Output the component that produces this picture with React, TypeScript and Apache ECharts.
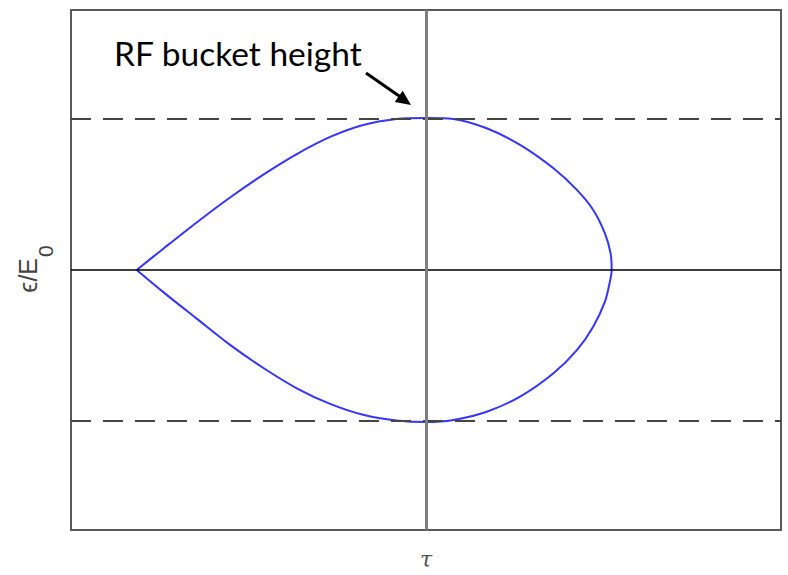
import React, { useEffect, useRef } from "react";
import * as echarts from "echarts";

// RF bucket (separatrix): tau (horizontal) and eps/E0 (vertical)
const bucketHeight = 0.585;
const tauRange = [-1, 1];
const epsRange = [-1, 1];

const upperTau = [-0.815, -0.74, -0.646, -0.552, -0.458, -0.364, -0.27, -0.177, -0.083, 0, 0.077, 0.171, 0.265, 0.359, 0.425, 0.471, 0.504, 0.52, 0.523];
const upperEps = [0, 0.082, 0.183, 0.279, 0.367, 0.446, 0.512, 0.558, 0.581, 0.585, 0.581, 0.545, 0.481, 0.391, 0.308, 0.231, 0.141, 0.064, 0];
const lowerTau = [0.523, 0.518, 0.504, 0.471, 0.425, 0.359, 0.265, 0.171, 0.077, 0, -0.083, -0.177, -0.27, -0.364, -0.458, -0.552, -0.646, -0.74, -0.815];
const lowerEps = [0, -0.045, -0.122, -0.218, -0.308, -0.397, -0.487, -0.545, -0.577, -0.585, -0.579, -0.557, -0.515, -0.455, -0.377, -0.288, -0.187, -0.085, 0];

const annotation = "RF bucket height";
const xName = "τ";
const yNameMain = "ϵ/E";
const yNameSub = "0";

export default function App() {
  const ref = useRef<HTMLDivElement>(null);
  useEffect(() => {
    document.body.style.margin = "0";
    if (!ref.current) return;
    const chart = echarts.init(ref.current, null, { renderer: "svg" });
    const curve: number[][] = [];
    upperTau.forEach((t, i) => curve.push([t, upperEps[i]]));
    lowerTau.forEach((t, i) => { if (i > 0) curve.push([t, lowerEps[i]]); });

    chart.setOption({
      animation: false,
      backgroundColor: "#ffffff",
      grid: {
        left: 71, top: 10, width: 710, height: 520,
        outerBoundsMode: "none", containLabel: false,
        show: true, borderColor: "#5a5a5a", borderWidth: 2, backgroundColor: "transparent",
      },
      xAxis: {
        type: "value", min: tauRange[0], max: tauRange[1],
        axisLine: { show: false }, axisTick: { show: false }, axisLabel: { show: false }, splitLine: { show: false },
      },
      yAxis: {
        type: "value", min: epsRange[0], max: epsRange[1],
        axisLine: { show: false }, axisTick: { show: false }, axisLabel: { show: false }, splitLine: { show: false },
      },
      series: [
        {
          type: "line", data: [], silent: true,
          markLine: {
            silent: true, symbol: ["none", "none"], label: { show: false },
            data: [
              { yAxis: bucketHeight, lineStyle: { color: "#444", width: 2, type: [20, 12] } },
              { yAxis: -bucketHeight, lineStyle: { color: "#444", width: 2, type: [20, 12] } },
              { yAxis: 0, lineStyle: { color: "#000", width: 1.5, type: "solid" } },
            ],
          },
        },
        {
          type: "line", data: curve, showSymbol: false, smooth: 0.3, silent: true,
          lineStyle: { color: "#3535ff", width: 2 }, z: 3,
        },
        {
          type: "line", data: [], silent: true, z: 4,
          markLine: {
            silent: true, symbol: ["none", "none"], label: { show: false },
            data: [{ xAxis: 0, lineStyle: { color: "#7f7f7f", width: 3, type: "solid" } }],
          },
        },
      ],
      graphic: [
        {
          type: "text", x: 114, y: 53,
          style: { text: annotation, font: "33.5px Lato", fill: "#000", verticalAlign: "middle", align: "left" },
        },
        {
          type: "line", shape: { x1: 366, y1: 73, x2: 402, y2: 98 },
          style: { stroke: "#000", lineWidth: 3 },
        },
        {
          type: "polygon", shape: { points: [[394.7, 102.1], [402.7, 90.7], [411, 105]] },
          style: { fill: "#000" },
        },
        {
          type: "text", x: 426, y: 559,
          style: { text: xName, font: "italic 22px 'DejaVu Serif'", fill: "#555", align: "center", verticalAlign: "middle" },
        },
        {
          type: "group", x: 28, y: 270, rotation: Math.PI / 2,
          children: [
            {
              type: "text", x: 12, y: 0,
              style: { text: yNameMain, font: "25px 'Liberation Sans', 'DejaVu Sans'", fill: "#444", align: "right", verticalAlign: "middle" },
            },
            {
              type: "text", x: 13, y: 17,
              style: { text: yNameSub, font: "21px 'Liberation Sans', 'DejaVu Sans'", fill: "#444", align: "left", verticalAlign: "middle" },
            },
          ],
        },
      ],
    });
    return () => chart.dispose();
  }, []);
  return <div ref={ref} style={{ width: 788, height: 575 }} />;
}
